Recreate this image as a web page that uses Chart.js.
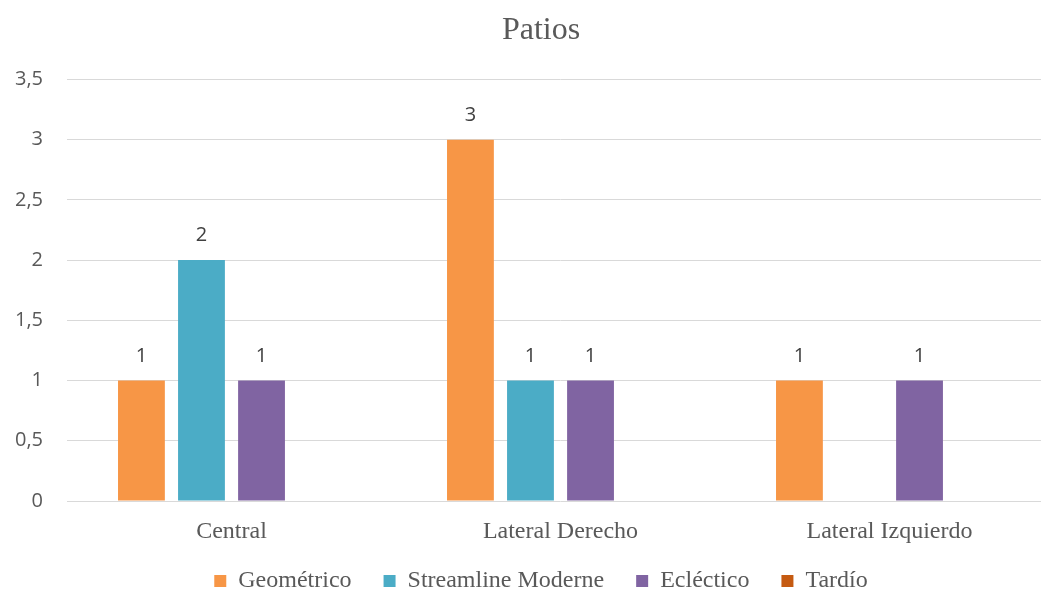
<!DOCTYPE html>
<html>
<head>
<meta charset="utf-8">
<script src="https://cdn.jsdelivr.net/npm/chart.js@4/dist/chart.umd.min.js"></script>
<style>
    html, body { margin: 0; padding: 0; background: #fff; }
    #wrap { width: 1041px; height: 592px; overflow: hidden; }
</style>
</head>
<body>
<div id="wrap"><canvas id="chart" width="1076" height="592"></canvas></div>
<script>
// Chart data
const categories = ['Central', 'Lateral Derecho', 'Lateral Izquierdo'];
const geometrico = [1, 3, 1];
const streamline = [2, 1, null];
const eclectico = [1, 1, 1];
const tardio = [null, null, null];
const yTicks = [0, 0.5, 1, 1.5, 2, 2.5, 3, 3.5];

const serif = '"Liberation Serif", "Times New Roman", serif';
const sans = '"Open Sans", "Noto Sans", sans-serif';

/**
 * Draw value labels above each bar
 */
const valueLabels = {
    id: 'valueLabels',
    afterDatasetsDraw(chart) {
        const ctx = chart.ctx;
        ctx.save();
        ctx.font = '20px ' + sans;
        ctx.fillStyle = '#404040';
        ctx.textAlign = 'center';
        ctx.textBaseline = 'alphabetic';
        chart.data.datasets.forEach((ds, i) => {
            const meta = chart.getDatasetMeta(i);
            meta.data.forEach((bar, j) => {
                const v = ds.data[j];
                if (v === null || v === undefined) return;
                ctx.fillText(String(v).replace('.', ','), bar.x, bar.y - 19);
            });
        });
        ctx.restore();
    }
};

const barOpts = { categoryPercentage: 0.73, barPercentage: 0.78, borderWidth: 0 };

// Fix an axis box size, and let its labels draw outside the box
function fixSize(prop, size) {
    return function(axis) {
        axis[prop] = size;
        axis._computeLabelArea = () => undefined;
    };
}

new Chart(document.getElementById('chart'), {
    type: 'bar',
    data: {
        labels: categories,
        datasets: [
            Object.assign({ label: 'Geométrico', data: geometrico, backgroundColor: '#F79646' }, barOpts),
            Object.assign({ label: 'Streamline Moderne', data: streamline, backgroundColor: '#4BACC6' }, barOpts),
            Object.assign({ label: 'Ecléctico', data: eclectico, backgroundColor: '#8064A2' }, barOpts),
            Object.assign({ label: 'Tardío', data: tardio, backgroundColor: '#C55A11' }, barOpts)
        ]
    },
    options: {
        responsive: false,
        animation: false,
        layout: { padding: { left: 28, right: 22, top: 0, bottom: -11 } },
        scales: {
            x: {
                grid: { display: false, drawTicks: false },
                border: { display: false },
                afterFit: fixSize('height', 36),
                ticks: { color: '#595959', font: { family: serif, size: 24 }, padding: 16 }
            },
            y: {
                min: 0,
                max: 3.5,
                afterBuildTicks(axis) {
                    axis.ticks = yTicks.map(v => ({ value: v }));
                },
                afterFit: fixSize('width', 39),
                grid: { color: '#D9D9D9', lineWidth: 1, drawTicks: false },
                border: { display: false },
                ticks: {
                    color: '#595959',
                    font: { family: sans, size: 20 },
                    padding: 24,
                    callback: v => String(v).replace('.', ',')
                }
            }
        },
        plugins: {
            title: {
                display: true,
                text: 'Patios',
                color: '#595959',
                font: { family: serif, size: 32, weight: 'normal' },
                padding: { top: 11, bottom: 30 }
            },
            legend: {
                position: 'bottom',
                labels: {
                    color: '#595959',
                    font: { family: serif, size: 24 },
                    usePointStyle: true,
                    pointStyle: 'rect',
                    boxWidth: 12,
                    boxHeight: 12,
                    padding: 32
                }
            },
            tooltip: { enabled: false }
        }
    },
    plugins: [valueLabels]
});
</script>
</body>
</html>
